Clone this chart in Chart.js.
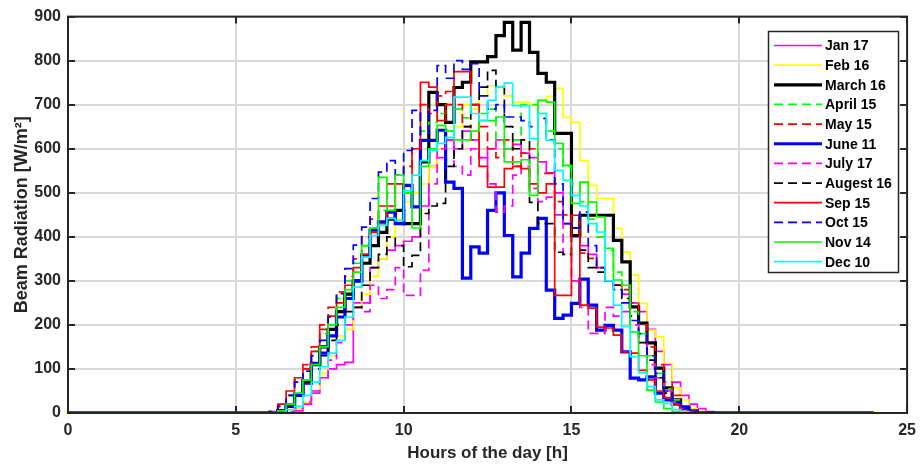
<!DOCTYPE html>
<html><head><meta charset="utf-8">
<script src="https://cdn.jsdelivr.net/npm/chart.js@4.4.0/dist/chart.umd.min.js"></script>
<style>html,body{margin:0;padding:0;background:#fff;overflow:hidden}</style>
</head><body>
<canvas id="c" width="924" height="466"></canvas>
<script>
// ---- data (W/m^2), 15-minute stairs from 6:00 to 19:00; zero outside ----
const START_HOUR = 6;
const STEP_H = 0.25;
const END_HOUR = 24;
const xTicks = [0, 5, 10, 15, 20, 25];
const yTicks = [0, 100, 200, 300, 400, 500, 600, 700, 800, 900];
const seriesNames = ["Jan 17","Feb 16","March 16","April 15","May 15","June 11","July 17","Augest 16","Sep 15","Oct 15","Nov 14","Dec 10"];

const jan17 = [0,0,0,5, 20,45,80,100, 110,115,250,250, 330,350,370,380, 390,400,470,560, 580,620,600,640, 620,580,600,620, 600,610,590,580, 570,545,500,430, 400,380,360,330, 300,290,270,250, 230,190,140,110, 70,40,20,10, 3];
const feb16 = [0,0,3,10, 25,50,90,130, 175,190,240,270, 310,350,400,440, 480,500,520,560, 600,640,650,700, 690,720,743,743, 720,706,706,700, 710,719,737,671, 660,573,517,487, 487,419,366,313, 249,188,173,113, 57,30,10,3, 0];
const mar16 = [0,5,15,40, 70,110,150,190, 230,270,300,340, 380,410,440,460, 430,430,570,728, 700,660,739,751, 797,797,809,857, 887,824,887,819, 771,751,635,635, 403,449,449,449, 449,392,343,241, 204,159,102,57, 30,10,3,0, 0];
const apr15 = [3,15,40,70, 100,140,180,220, 260,300,340,380, 420,460,500,520, 560,600,640,660, 680,700,690,670, 700,680,690,620, 600,620,700,700, 680,640,600,560, 520,480,440,400, 370,320,280,230, 180,130,90,55, 30,12,3,0, 0];
const may15 = [3,15,40,75, 110,150,200,240, 275,310,350,400, 440,470,520,540, 560,600,700,680, 720,730,700,650, 620,650,600,580, 620,560,590,600, 544,544,480,450, 420,363,351,330, 300,290,280,250, 200,150,110,70, 40,15,5,0, 0];
const jun11 = [0,5,18,41, 68,113,136,175, 218,260,300,358, 415,434,456,430, 517,468,619,619, 642,524,510,306, 377,363,460,500, 403,309,363,419, 442,279,215,222, 249,304,245,188, 199,188,139,79, 75,82,45,30, 20,14,5,0, 0];
const jul17 = [0,0,3,10, 25,50,80,120, 160,200,240,230, 290,260,280,330, 267,267,324,520, 600,620,560,540, 600,580,520,456, 470,540,560,510, 480,490,450,360, 300,240,181,181, 240,220,230,200, 160,110,80,50, 25,10,3,0, 0];
const aug16 = [0,5,20,45, 70,100,130,165, 200,230,240,290, 330,360,400,380, 332,358,453,470, 476,560,600,650, 700,740,778,740, 650,600,620,478, 430,430,365,360, 420,370,330,320, 300,290,260,220, 160,120,80,45, 25,10,3,0, 0];
const sep15 = [3,20,50,80, 100,140,190,220, 250,290,330,360, 410,430,470,520, 500,600,751,740, 664,700,775,775, 700,560,513,513, 555,560,555,520, 500,520,267,267, 449,245,238,195, 193,177,139,136, 97,75,50,35, 20,8,3,0, 0];
const oct15 = [3,15,40,70, 95,130,165,218, 271,328,381,422, 487,547,573,540, 596,687,620,687, 789,760,800,780, 793,720,690,700, 672,672,664,650, 669,620,520,430, 420,456,380,330, 300,280,250,210, 180,130,90,50, 25,10,3,0, 0];
const nov14 = [0,5,20,45, 75,110,150,200, 240,280,320,380, 420,535,460,540, 500,420,560,600, 653,640,620,620, 640,664,664,672, 570,570,575,494, 710,706,612,562, 476,524,479,445, 374,302,290,184, 130,52,25,10, 3,0,0,0, 0];
const dec10 = [0,0,8,15, 40,70,105,136, 165,218,286,354, 403,426,442,437, 505,540,573,596, 612,626,717,717, 680,664,710,740, 749,698,698,623, 680,619,551,528, 494,470,430,411, 300,245,196,128, 91,60,30,22, 8,3,0,0, 0];

const seriesValues = [jan17, feb16, mar16, apr15, may15, jun11, jul17, aug16, sep15, oct15, nov14, dec10];

// styles
const seriesColors = ['#ff00ff','#ffff00','#000000','#00ff00','#ff0000','#0000ff','#ff00ff','#000000','#ff0000','#0000ff','#00ff00','#00ffff'];
const seriesDashed = [false,false,false,true,true,false,true,true,false,true,false,false];
const seriesThick  = [false,false,true,false,false,true,false,false,false,false,false,false];

function toPoints(vals){
  const pts = [];
  const n = Math.round(END_HOUR / STEP_H);
  for (let k = 0; k <= n; k++){
    const h = k * STEP_H;
    const idx = Math.round((h - START_HOUR) / STEP_H);
    const v = (idx >= 0 && idx < vals.length) ? vals[idx] : 0;
    pts.push({x: h, y: v});
  }
  return pts;
}

const datasets = seriesValues.map((vals, i) => ({
  label: seriesNames[i],
  data: toPoints(vals),
  borderColor: seriesColors[i],
  backgroundColor: seriesColors[i],
  borderWidth: seriesThick[i] ? 3.2 : 1.7,
  borderDash: seriesDashed[i] ? [9,5] : [],
  stepped: true,
  pointRadius: 0,
  fill: false,
  order: seriesValues.length - 1 - i
}));

const FONT = '"Liberation Sans", Arial, Helvetica, sans-serif';
const AXIS_COLOR = '#262626';

const framePlugin = {
  id: 'frame',
  afterDatasetsDraw(chart){
    const {ctx, chartArea: a, scales} = chart;
    ctx.save();
    ctx.strokeStyle = AXIS_COLOR;
    ctx.lineWidth = 2;
    ctx.setLineDash([]);
    const tl = 7;
    ctx.beginPath();
    xTicks.forEach(v => {
      const x = Math.round(scales.x.getPixelForValue(v));
      ctx.moveTo(x, a.bottom); ctx.lineTo(x, a.bottom - tl);
      ctx.moveTo(x, a.top); ctx.lineTo(x, a.top + tl);
    });
    yTicks.forEach(v => {
      const y = Math.round(scales.y.getPixelForValue(v));
      ctx.moveTo(a.left, y); ctx.lineTo(a.left + tl, y);
      ctx.moveTo(a.right, y); ctx.lineTo(a.right - tl, y);
    });
    ctx.stroke();
    ctx.strokeRect(a.left, a.top, a.right - a.left, a.bottom - a.top);

    // legend box
    const lx = 768.5, ly = 31.5, lw = 130, lh = 241, rowH = 19.65;
    ctx.fillStyle = '#ffffff';
    ctx.fillRect(lx, ly, lw, lh);
    ctx.lineWidth = 1.5;
    ctx.strokeStyle = AXIS_COLOR;
    ctx.strokeRect(lx, ly, lw, lh);
    ctx.font = 'bold 14px ' + FONT;
    ctx.textBaseline = 'middle';
    ctx.textAlign = 'left';
    chart.data.datasets.forEach((ds, i) => {
      const y = ly + 14 + i * rowH;
      ctx.strokeStyle = ds.borderColor;
      ctx.lineWidth = ds.borderWidth;
      ctx.setLineDash(ds.borderDash);
      ctx.beginPath(); ctx.moveTo(774, y); ctx.lineTo(822, y); ctx.stroke();
      ctx.setLineDash([]);
      ctx.fillStyle = '#000';
      ctx.fillText(ds.label, 825, y + 1);
    });
    ctx.restore();
  }
};

new Chart(document.getElementById('c'), {
  type: 'line',
  data: { datasets },
  plugins: [framePlugin],
  options: {
    responsive: false,
    animation: false,
    devicePixelRatio: 1,
    layout: { padding: { top: 16, right: 14, left: 0, bottom: 0 } },
    plugins: { legend: { display: false }, tooltip: { enabled: false } },
    elements: { line: { tension: 0 } },
    scales: {
      x: {
        type: 'linear', min: 0, max: 25,
        afterBuildTicks(s){ s.ticks = xTicks.map(v => ({value: v})); },
        afterFit(s){ s.height = 53; },
        ticks: { color: AXIS_COLOR, font: { family: FONT, size: 16, weight: 'bold' }, padding: 8, maxRotation: 0 },
        grid: { color: '#d9d9d9', lineWidth: 2, drawTicks: false },
        border: { display: false },
        title: { display: true, text: 'Hours of the day [h]', color: AXIS_COLOR,
                 font: { family: FONT, size: 17, weight: 'bold' }, padding: { top: 0, bottom: 2 } }
      },
      y: {
        type: 'linear', min: 0, max: 900,
        afterBuildTicks(s){ s.ticks = yTicks.map(v => ({value: v})); },
        afterFit(s){ s.width = 68; },
        ticks: { color: AXIS_COLOR, font: { family: FONT, size: 16, weight: 'bold' }, padding: 7 },
        grid: { color: '#d9d9d9', lineWidth: 2, drawTicks: false },
        border: { display: false },
        title: { display: true, text: 'Beam Radiation [W/m²]', color: AXIS_COLOR,
                 font: { family: FONT, size: 18, weight: 'bold' }, padding: { top: 11, bottom: 0 } }
      }
    }
  }
});
</script>
</body></html>
